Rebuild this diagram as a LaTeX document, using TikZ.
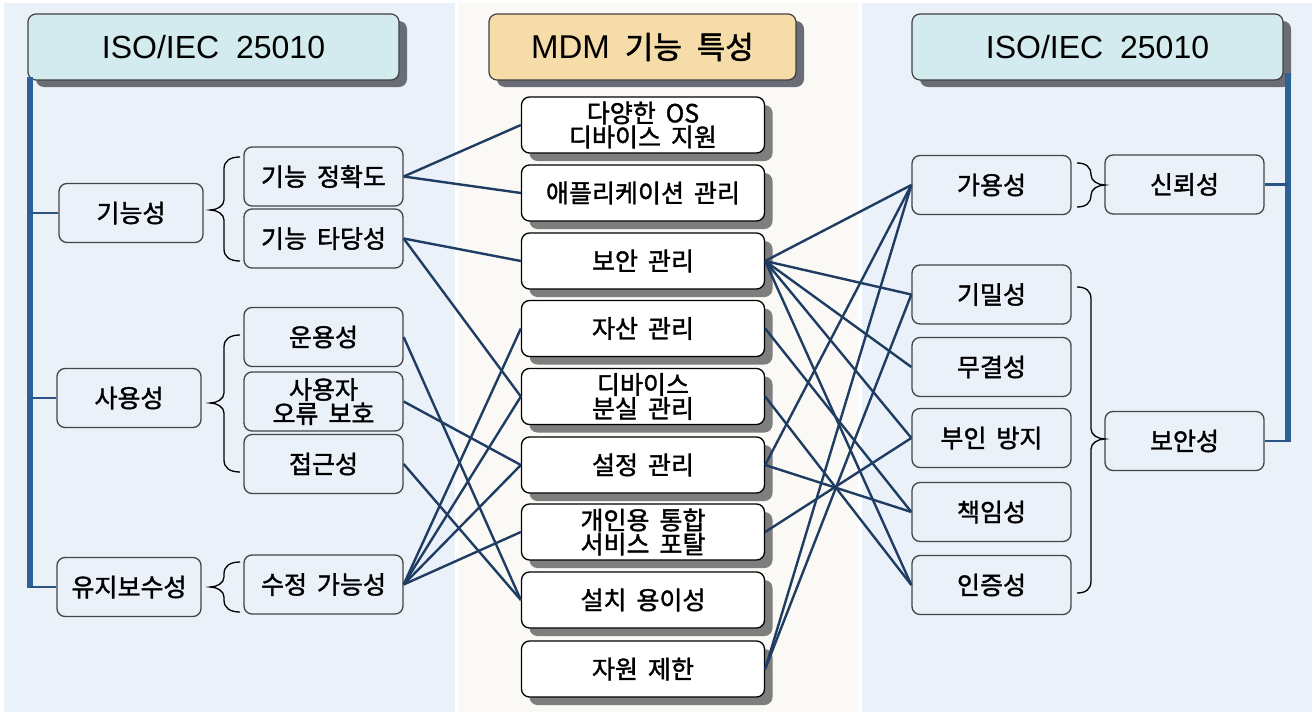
\documentclass[tikz,border=0pt]{standalone}
\usepackage{fontspec}
\setmainfont{Noto Sans CJK KR}
\newfontfamily\kofont[FakeBold=1.5]{Noto Sans CJK KR}
\newfontfamily\hdrfont{Liberation Sans}
\usetikzlibrary{shadows}
\definecolor{panelblue}{HTML}{EBF1F9}
\definecolor{panelmid}{HTML}{FAF9F5}
\definecolor{hdrcyan}{HTML}{D3EBEE}
\definecolor{hdrtan}{HTML}{F6DCA8}
\definecolor{barblue}{HTML}{2F6199}
\definecolor{branchblue}{HTML}{2B5486}
\definecolor{connblue}{HTML}{1F3D63}
\definecolor{shadowgray}{HTML}{7E7E7E}
\definecolor{hdrshadow}{HTML}{6A6D76}
\definecolor{boxline}{HTML}{444444}
\newcommand\boxfnt{\kofont\fontsize{25}{24}\selectfont\spaceskip=0.4em\relax}
\newcommand\hdrfnt{\fontsize{32}{34}\selectfont}
\newcommand\hdrko{\kofont\fontsize{31}{34}\selectfont}
\newcommand\bracel[4]{%
 \draw[bracestyle] ({#1+30},#3) .. controls ({#1+20},#3) and ({#1+14},{#3+4}) .. ({#1+14},{#3+12})
 -- ({#1+14},{#2-10}) .. controls ({#1+14},{#2-4}) and ({#1+7},#2) .. (#1,#2)
 .. controls ({#1+7},#2) and ({#1+14},{#2+4}) .. ({#1+14},{#2+10})
 -- ({#1+14},{#4-12}) .. controls ({#1+14},{#4-4}) and ({#1+20},#4) .. ({#1+30},#4);}
\newcommand\bracer[4]{%
 \draw[bracestyle] ({#1-28},#3) .. controls ({#1-19},#3) and ({#1-14},{#3+4}) .. ({#1-14},{#3+12})
 -- ({#1-14},{#2-10}) .. controls ({#1-14},{#2-4}) and ({#1-7},#2) .. (#1,#2)
 .. controls ({#1-7},#2) and ({#1-14},{#2+4}) .. ({#1-14},{#2+10})
 -- ({#1-14},{#4-12}) .. controls ({#1-14},{#4-4}) and ({#1-19},#4) .. ({#1-28},#4);}
\begin{document}
\begin{tikzpicture}[x=1pt,y=-1pt,
  hdr/.style={rounded corners=8pt, draw=black!75, line width=1.2pt, inner sep=0pt,
    minimum width=371pt, minimum height=66pt,
    drop shadow={shadow xshift=8pt, shadow yshift=-7pt, fill=hdrshadow, opacity=1}},
  sbox/.style={rounded corners=8pt, draw=boxline, line width=1.3pt, inner sep=0pt,
    minimum width=159pt, minimum height=59pt, align=center, font=\boxfnt},
  gbox/.style={sbox, minimum width=144pt},
  mbox/.style={rounded corners=8pt, draw=black, line width=1.3pt, fill=white, inner sep=0pt,
    minimum width=243pt, minimum height=56pt, align=center, font=\boxfnt,
    drop shadow={shadow xshift=8pt, shadow yshift=-8pt, fill=shadowgray, opacity=1}},
  conn/.style={draw=connblue, line width=2.4pt},
  branch/.style={draw=branchblue, line width=2.6pt},
  bar/.style={draw=barblue, line width=6pt},
  bracestyle/.style={draw=black, line width=1.3pt}]
\useasboundingbox (0,0) rectangle (1315,715);
\fill[white] (0,0) rectangle (1315,715);
\fill[panelblue] (4,3) rectangle (455,712);
\fill[panelmid] (458,3) rectangle (858,712);
\fill[panelblue] (862,3) rectangle (1312,712);

% headers
\node[hdr, fill=hdrcyan] (hL) at (213.5,47) {\hdrfont\hdrfnt ISO/IEC\hspace{8pt} 25010};
\node[hdr, fill=hdrtan, minimum width=307pt] (hM) at (642.5,47) {\hdrfont\fontsize{33}{34}\selectfont MDM\hspace{15pt}{\hdrko 기능\hspace{15pt}특성}};
\node[hdr, fill=hdrcyan] (hR) at (1097.5,47) {\hdrfont\hdrfnt ISO/IEC\hspace{8pt} 25010};

% left bar
\coordinate (bLt) at (30,77);
\coordinate (bLb) at (30,588);
\draw[bar] (bLt) -- (bLb);

% left group boxes
\node[gbox] (g1) at (131,213) {기능성};
\node[gbox] (g2) at (129,398) {사용성};
\node[gbox] (g3) at (129,587) {유지보수성};
\draw[branch] (g1.west) -- (g1.west -| bLt);
\draw[branch] (g2.west) -- (g2.west -| bLt);
\draw[branch] (g3.west) -- (g3.west -| bLt);

% left sub boxes
\node[sbox] (f1) at (323.5,176.5) {기능 정확도};
\node[sbox] (f2) at (323.5,238.5) {기능 타당성};
\node[sbox] (u1) at (323.5,337) {운용성};
\node[sbox] (u2) at (323.5,401.5) {사용자\\오류 보호};
\node[sbox] (u3) at (323.5,464) {접근성};
\node[sbox] (s1) at (323.5,584.5) {수정 가능성};

\bracel{210}{210}{157}{261}
\bracel{210}{403}{335}{472}
\bracel{210}{587}{562}{612}

% middle boxes
\node[mbox] (m1) at (643,125) {다양한 OS\\디바이스 지원};
\node[mbox] (m2) at (643,193) {애플리케이션 관리};
\node[mbox] (m3) at (643,261) {보안 관리};
\node[mbox] (m4) at (643,328.5) {자산 관리};
\node[mbox] (m5) at (643,396.5) {디바이스\\분실 관리};
\node[mbox] (m6) at (643,465) {설정 관리};
\node[mbox] (m7) at (643,532) {개인용 통합\\서비스 포탈};
\node[mbox] (m8) at (643,600) {설치 용이성};
\node[mbox] (m9) at (643,669) {자원 제한};

% right boxes
\node[sbox] (r1) at (991.5,185) {가용성};
\node[sbox] (r2) at (991.5,294.5) {기밀성};
\node[sbox] (r3) at (991.5,367) {무결성};
\node[sbox] (r4) at (991.5,438) {부인 방지};
\node[sbox] (r5) at (991.5,512) {책임성};
\node[sbox] (r6) at (991.5,585) {인증성};
\node[sbox] (q1) at (1184.5,184.5) {신뢰성};
\node[sbox] (q2) at (1184.5,441) {보안성};

\bracer{1105}{185}{163}{207}
\bracer{1105}{439}{287}{593}

% right bar
\coordinate (bRt) at (1288,73);
\coordinate (bRb) at (1288,442.3);
\draw[bar] (bRt) -- (bRb);
\draw[branch] (q1.east) -- (q1.east -| bRt);
\draw[branch] (q2.east) -- ([xshift=3pt]q2.east -| bRt);

% left connectors
\draw[conn] (f1.east) -- (m1.west);
\draw[conn] (f1.east) -- (m2.west);
\draw[conn] (f2.east) -- (m3.west);
\draw[conn] (f2.east) -- (m5.west);
\draw[conn] (u1.east) -- (m8.west);
\draw[conn] (u2.east) -- (m6.west);
\draw[conn] (u3.east) -- (m8.west);
\draw[conn] (s1.east) -- (m4.west);
\draw[conn] (s1.east) -- (m5.west);
\draw[conn] (s1.east) -- (m6.west);
\draw[conn] (s1.east) -- (m7.west);

% right connectors
\draw[conn] (m3.east) -- (r1.west);
\draw[conn] (m3.east) -- (r2.west);
\draw[conn] (m3.east) -- (r3.west);
\draw[conn] (m3.east) -- (r4.west);
\draw[conn] (m3.east) -- (r6.west);
\draw[conn] (m4.east) -- (r5.west);
\draw[conn] (m5.east) -- (r6.west);
\draw[conn] (m6.east) -- (r1.west);
\draw[conn] (m6.east) -- (r5.west);
\draw[conn] (m7.east) -- (r4.west);
\draw[conn] (m9.east) -- (r1.west);
\draw[conn] (m9.east) -- (r2.west);
\end{tikzpicture}
\end{document}
